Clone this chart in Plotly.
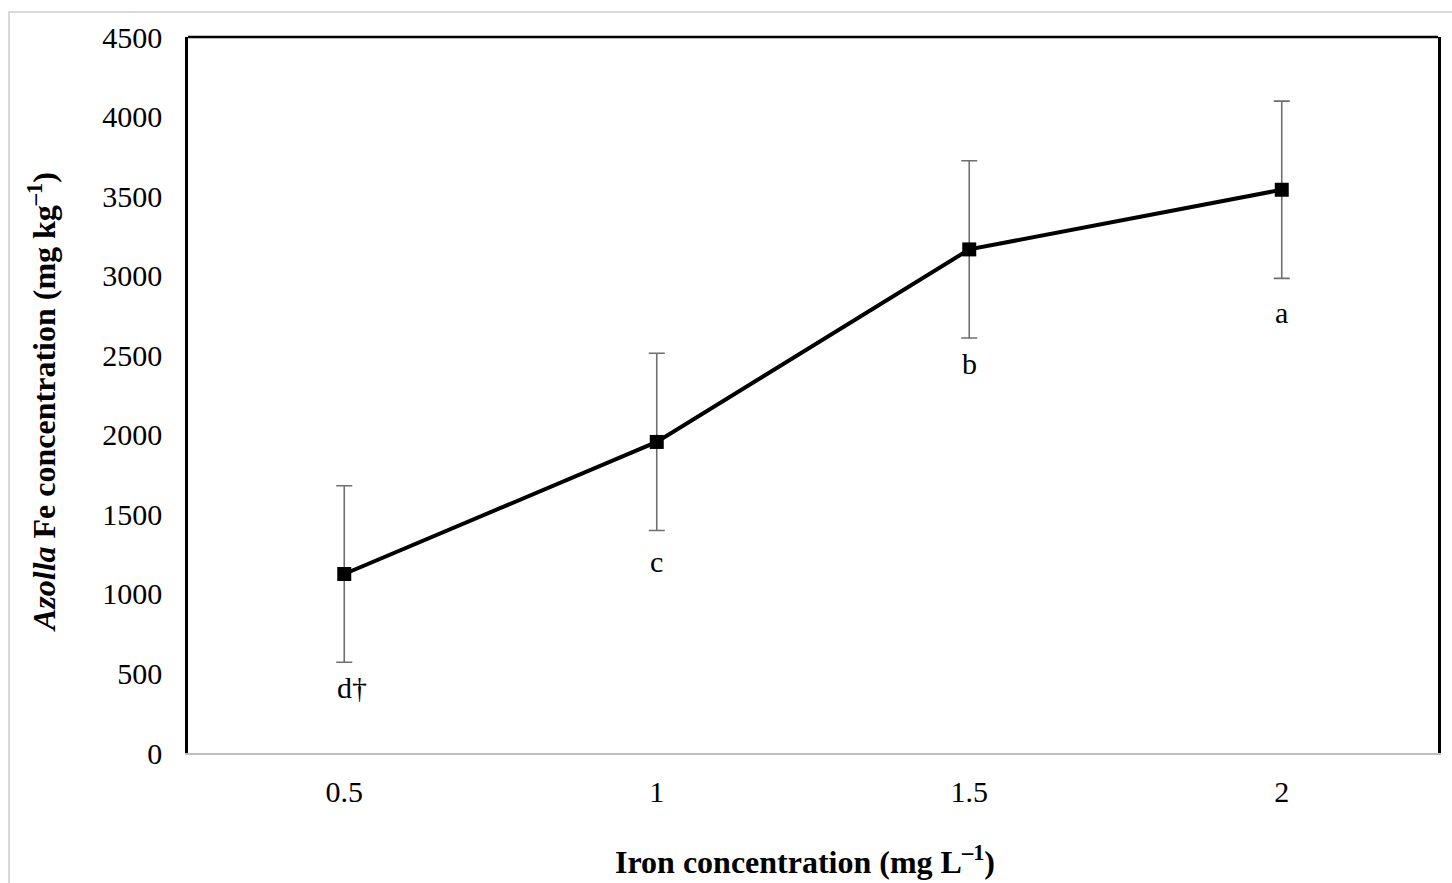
import plotly.graph_objects as go

categories = ["0.5", "1", "1.5", "2"]
fe_conc = [1125, 1955, 3165, 3540]
fe_err = [555, 557, 557, 557]
letters = ["d†", "c", "b", "a"]
letter_y = [409, 1202, 2448, 2769]
y_ticks = [0, 500, 1000, 1500, 2000, 2500, 3000, 3500, 4000, 4500]

FONT = "Liberation Serif, Times New Roman, serif"

fig = go.Figure()
fig.add_trace(go.Scatter(
    x=categories, y=fe_conc, mode="lines+markers",
    line=dict(color="black", width=4),
    marker=dict(symbol="square", size=14, color="black"),
    error_y=dict(type="data", array=fe_err, visible=True,
                 color="#6f6f6f", thickness=1.6, width=8),
    showlegend=False,
))

for i, (t, yy) in enumerate(zip(letters, letter_y)):
    fig.add_annotation(x=i, y=yy, text=t, showarrow=False,
                       xshift=8 if t == "d†" else 0,
                       font=dict(family=FONT, size=30, color="black"))

fig.update_layout(
    width=1452, height=883,
    margin=dict(l=188, r=14, t=37, b=130),
    paper_bgcolor="white", plot_bgcolor="white",
    font=dict(family=FONT, size=30, color="black"),
    xaxis=dict(type="category", range=[-0.5, 3.5], showgrid=False,
               showline=True, linecolor="#bfbfbf", linewidth=2,
               ticks="", ticklabelstandoff=11, zeroline=False),
    yaxis=dict(range=[0, 4500], tickvals=y_ticks, showgrid=False,
               showline=True, linecolor="black", linewidth=2.5, mirror=True,
               ticks="", ticklabelstandoff=17, zeroline=False),
    shapes=[
        dict(type="line", xref="paper", yref="paper", x0=0, x1=1, y0=1, y1=1,
             line=dict(color="black", width=2.5)),
        dict(type="rect", xref="paper", yref="paper", x0=-0.1432, x1=1.05,
             y0=-0.3, y1=1.0349, line=dict(color="#d9d9d9", width=2),
             layer="below"),
    ],
)

fig.add_annotation(xref="paper", yref="paper", x=(805 - 188) / 1250,
                   y=(753 - 860) / 716, xanchor="center", yanchor="middle",
                   text="<b>Iron concentration (mg L<sup>–1</sup>)</b>",
                   showarrow=False, font=dict(family=FONT, size=32))
fig.add_annotation(xref="paper", yref="paper", x=(42 - 188) / 1250,
                   y=(753 - 402) / 716, xanchor="center", yanchor="middle",
                   textangle=-90,
                   text="<b><i>Azolla</i> Fe concentration (mg kg<sup>–1</sup>)</b>",
                   showarrow=False, font=dict(family=FONT, size=32))

fig.write_html("out.html", config={"displayModeBar": False},
               post_script="document.body.style.margin='0';")
